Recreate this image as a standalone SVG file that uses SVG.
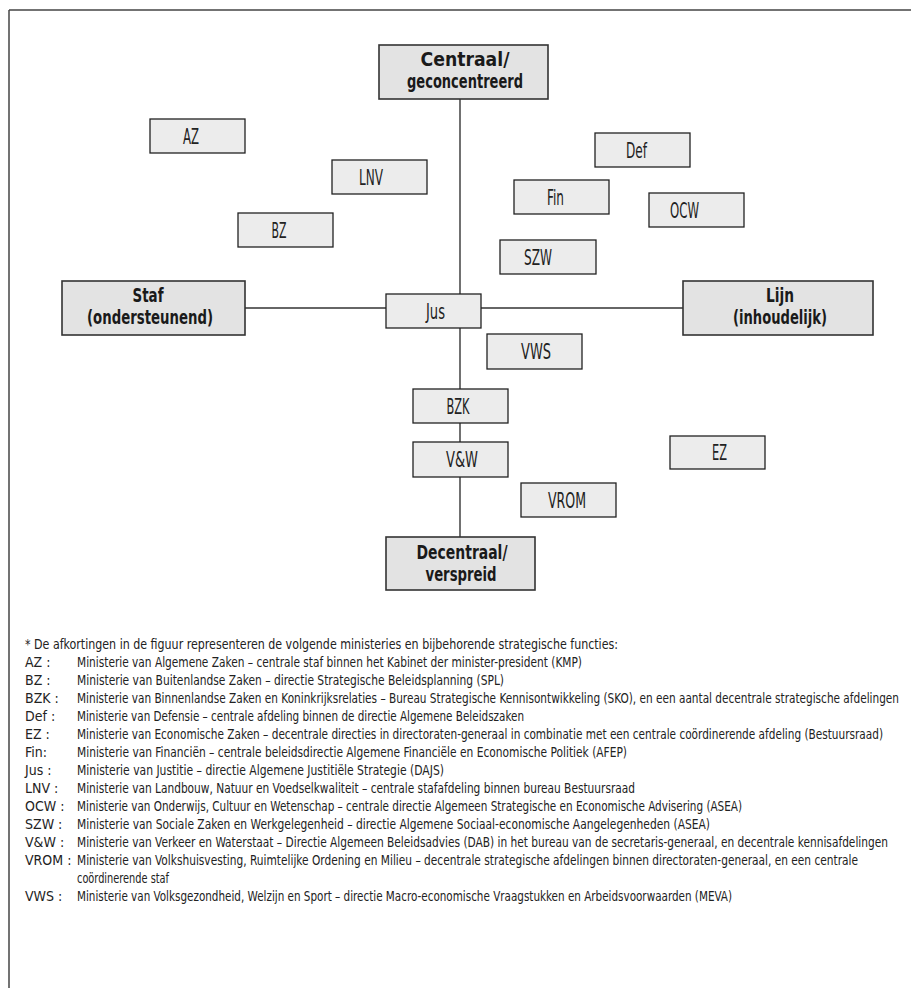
<svg xmlns="http://www.w3.org/2000/svg" width="911" height="988" viewBox="0 0 911 988">
<style>
.frame{stroke:#444;stroke-width:1.5;fill:none}
.box{fill:#ececec;stroke:#222;stroke-width:1.3}
.abox{fill:#e3e3e3;stroke:#333;stroke-width:1.6}
.lbl{font-family:"Liberation Sans Narrow","DejaVu Sans Condensed","Liberation Sans",sans-serif;font-size:22px;fill:#222;text-anchor:middle}
.albl{font-family:"Liberation Sans Narrow","DejaVu Sans Condensed","Liberation Sans",sans-serif;font-size:20px;font-weight:bold;fill:#1a1a1a;text-anchor:middle}
.leg{font-family:"Liberation Sans Narrow","DejaVu Sans Condensed","Liberation Sans",sans-serif;font-size:14px;fill:#222}
.vaxis{stroke:#111;stroke-width:1.2}
.haxis{stroke:#666;stroke-width:2}
</style>
<rect width="911" height="988" fill="#fff"/>
<g id="frame">
<line class="frame" x1="9" y1="10" x2="911" y2="10"/>
<line class="frame" x1="9" y1="10" x2="9" y2="988"/>
</g>
<g id="connectors">
<line class="vaxis" x1="460" y1="99" x2="460" y2="537"/>
<line class="haxis" x1="245" y1="308" x2="683" y2="308"/>
</g>
<g id="centraal">
<rect class="abox" x="379" y="45" width="169" height="54"/>
<text class="albl" x="465" y="66" textLength="89" lengthAdjust="spacingAndGlyphs">Centraal/</text>
<text class="albl" x="465" y="88" textLength="116" lengthAdjust="spacingAndGlyphs">geconcentreerd</text>
</g>
<g id="staf">
<rect class="abox" x="62" y="281" width="183" height="54"/>
<text class="albl" x="148" y="302" textLength="31" lengthAdjust="spacingAndGlyphs">Staf</text>
<text class="albl" x="150" y="324" textLength="126" lengthAdjust="spacingAndGlyphs">(ondersteunend)</text>
</g>
<g id="lijn">
<rect class="abox" x="683" y="281" width="190" height="54"/>
<text class="albl" x="780" y="302" textLength="28" lengthAdjust="spacingAndGlyphs">Lijn</text>
<text class="albl" x="780" y="324" textLength="94" lengthAdjust="spacingAndGlyphs">(inhoudelijk)</text>
</g>
<g id="decentraal">
<rect class="abox" x="386" y="537" width="149" height="53"/>
<text class="albl" x="462" y="559" textLength="91" lengthAdjust="spacingAndGlyphs">Decentraal/</text>
<text class="albl" x="461" y="581" textLength="71" lengthAdjust="spacingAndGlyphs">verspreid</text>
</g>
<g id="AZ">
<rect class="box" x="150" y="119" width="95" height="34"/>
<text class="lbl" x="191" y="144" textLength="16" lengthAdjust="spacingAndGlyphs">AZ</text>
</g>
<g id="LNV">
<rect class="box" x="332" y="160" width="95" height="34"/>
<text class="lbl" x="371" y="185" textLength="24" lengthAdjust="spacingAndGlyphs">LNV</text>
</g>
<g id="BZ">
<rect class="box" x="238" y="213" width="95" height="34"/>
<text class="lbl" x="279" y="238" textLength="15" lengthAdjust="spacingAndGlyphs">BZ</text>
</g>
<g id="Def">
<rect class="box" x="595" y="133" width="95" height="34"/>
<text class="lbl" x="636.5" y="158" textLength="21" lengthAdjust="spacingAndGlyphs">Def</text>
</g>
<g id="Fin">
<rect class="box" x="514" y="180" width="95" height="34"/>
<text class="lbl" x="555.5" y="205" textLength="17" lengthAdjust="spacingAndGlyphs">Fin</text>
</g>
<g id="OCW">
<rect class="box" x="649" y="193" width="95" height="34"/>
<text class="lbl" x="684.5" y="218" textLength="29" lengthAdjust="spacingAndGlyphs">OCW</text>
</g>
<g id="SZW">
<rect class="box" x="500" y="240" width="96" height="34"/>
<text class="lbl" x="538" y="265" textLength="28" lengthAdjust="spacingAndGlyphs">SZW</text>
</g>
<g id="Jus">
<rect class="box" x="386" y="294" width="95" height="34"/>
<text class="lbl" x="435.5" y="319" textLength="19" lengthAdjust="spacingAndGlyphs">Jus</text>
</g>
<g id="VWS">
<rect class="box" x="487" y="334" width="95" height="35"/>
<text class="lbl" x="536" y="359" textLength="30" lengthAdjust="spacingAndGlyphs">VWS</text>
</g>
<g id="BZK">
<rect class="box" x="413" y="389" width="95" height="34"/>
<text class="lbl" x="458" y="414" textLength="23" lengthAdjust="spacingAndGlyphs">BZK</text>
</g>
<g id="VW">
<rect class="box" x="413" y="442" width="95" height="35"/>
<text class="lbl" x="462" y="467" textLength="32" lengthAdjust="spacingAndGlyphs">V&amp;W</text>
</g>
<g id="EZ">
<rect class="box" x="670" y="436" width="95" height="33"/>
<text class="lbl" x="719.5" y="460" textLength="15" lengthAdjust="spacingAndGlyphs">EZ</text>
</g>
<g id="VROM">
<rect class="box" x="521" y="483" width="95" height="34"/>
<text class="lbl" x="567" y="508" textLength="38" lengthAdjust="spacingAndGlyphs">VROM</text>
</g>
<g id="legend" class="leg">
<text x="25" y="649" textLength="593" lengthAdjust="spacingAndGlyphs">* De afkortingen in de figuur representeren de volgende ministeries en bijbehorende strategische functies:</text>
<text x="25" y="667">AZ :</text>
<text x="77" y="667" textLength="505" lengthAdjust="spacingAndGlyphs">Ministerie van Algemene Zaken – centrale staf binnen het Kabinet der minister-president (KMP)</text>
<text x="25" y="685">BZ :</text>
<text x="77" y="685" textLength="427" lengthAdjust="spacingAndGlyphs">Ministerie van Buitenlandse Zaken – directie Strategische Beleidsplanning (SPL)</text>
<text x="25" y="703">BZK :</text>
<text x="77" y="703" textLength="822" lengthAdjust="spacingAndGlyphs">Ministerie van Binnenlandse Zaken en Koninkrijksrelaties – Bureau Strategische Kennisontwikkeling (SKO), en een aantal decentrale strategische afdelingen</text>
<text x="25" y="721">Def :</text>
<text x="77" y="721" textLength="447" lengthAdjust="spacingAndGlyphs">Ministerie van Defensie – centrale afdeling binnen de directie Algemene Beleidszaken</text>
<text x="25" y="739">EZ :</text>
<text x="77" y="739" textLength="806" lengthAdjust="spacingAndGlyphs">Ministerie van Economische Zaken – decentrale directies in directoraten-generaal in combinatie met een centrale coördinerende afdeling (Bestuursraad)</text>
<text x="25" y="757">Fin:</text>
<text x="77" y="757" textLength="550" lengthAdjust="spacingAndGlyphs">Ministerie van Financiën – centrale beleidsdirectie Algemene Financiële en Economische Politiek (AFEP)</text>
<text x="25" y="775">Jus :</text>
<text x="77" y="775" textLength="367" lengthAdjust="spacingAndGlyphs">Ministerie van Justitie – directie Algemene Justitiële Strategie (DAJS)</text>
<text x="25" y="793">LNV :</text>
<text x="77" y="793" textLength="558" lengthAdjust="spacingAndGlyphs">Ministerie van Landbouw, Natuur en Voedselkwaliteit – centrale stafafdeling binnen bureau Bestuursraad</text>
<text x="25" y="811">OCW :</text>
<text x="77" y="811" textLength="665" lengthAdjust="spacingAndGlyphs">Ministerie van Onderwijs, Cultuur en Wetenschap –  centrale directie Algemeen Strategische en Economische Advisering (ASEA)</text>
<text x="25" y="829">SZW :</text>
<text x="77" y="829" textLength="633" lengthAdjust="spacingAndGlyphs">Ministerie van Sociale Zaken en Werkgelegenheid – directie Algemene Sociaal-economische Aangelegenheden (ASEA)</text>
<text x="25" y="847">V&amp;W :</text>
<text x="77" y="847" textLength="811" lengthAdjust="spacingAndGlyphs">Ministerie van Verkeer en Waterstaat – Directie Algemeen Beleidsadvies (DAB) in het bureau van de secretaris-generaal, en decentrale kennisafdelingen</text>
<text x="25" y="865">VROM :</text>
<text x="77" y="865" textLength="781" lengthAdjust="spacingAndGlyphs">Ministerie van Volkshuisvesting, Ruimtelijke Ordening en Milieu – decentrale strategische afdelingen binnen directoraten-generaal, en een centrale</text>
<text x="77" y="883" textLength="92" lengthAdjust="spacingAndGlyphs">coördinerende staf</text>
<text x="25" y="901">VWS :</text>
<text x="77" y="901" textLength="655" lengthAdjust="spacingAndGlyphs">Ministerie van Volksgezondheid, Welzijn en Sport – directie Macro-economische Vraagstukken en Arbeidsvoorwaarden (MEVA)</text>
</g>
</svg>
